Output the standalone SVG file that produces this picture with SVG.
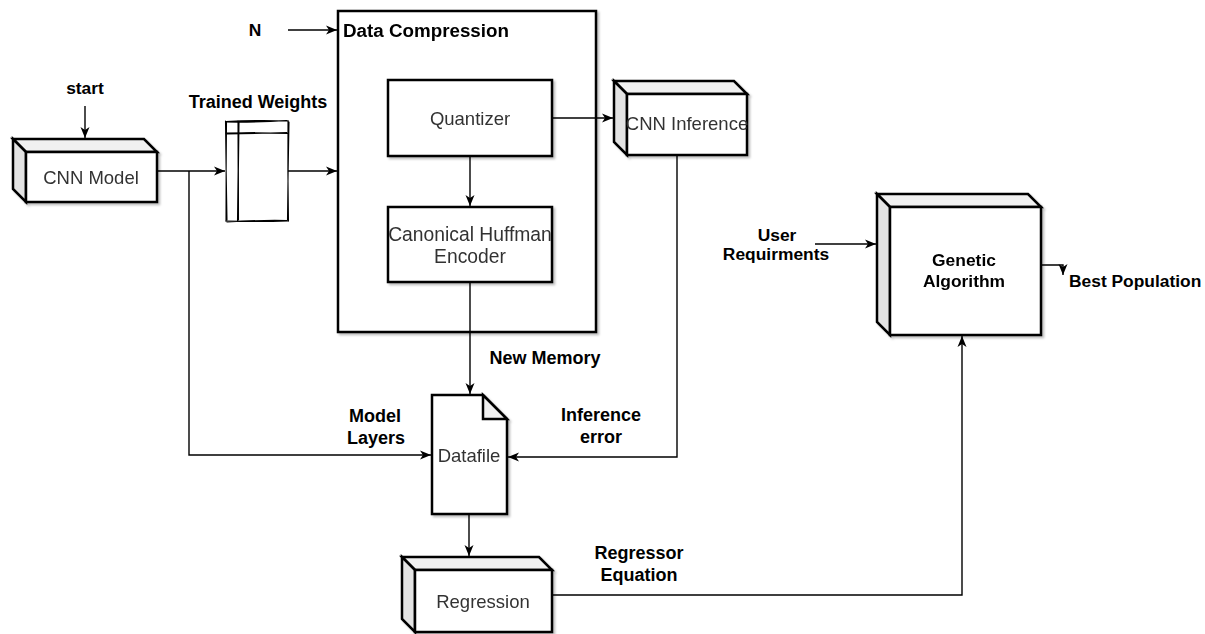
<svg xmlns="http://www.w3.org/2000/svg" width="1205" height="634" viewBox="0 0 1205 634">
  <style>
    .node { fill: #ffffff; stroke: #000000; stroke-width: 2.5; stroke-linejoin: miter; }
    .side { fill: #e3e3e3; stroke: #000000; stroke-width: 2.5; }
    .top { fill: #f0f0f0; stroke: #000000; stroke-width: 2.5; }
    .sketch { fill: none; stroke: #000000; stroke-width: 1.1; stroke-linecap: round; }
    .edge { fill: none; stroke: #000000; stroke-width: 1.4; }
    .lbl { font-family: "Liberation Sans", Arial, sans-serif; font-size: 18px; font-weight: bold; fill: #000000; }
    .sm { font-size: 17.4px; }
    .txt { font-family: "Liberation Sans", Arial, sans-serif; font-size: 18.5px; fill: #333333; text-anchor: middle; }
    .mid { text-anchor: middle; }
  </style>
  <defs>
    <marker id="arrow" markerUnits="userSpaceOnUse" markerWidth="12" markerHeight="12" viewBox="0 0 12 12" refX="11" refY="6" orient="auto">
      <path d="M0,1.5 L11,6 L0,10.5 L3,6 Z" fill="#000000"/>
    </marker>
    <filter id="shadow" x="-10%" y="-10%" width="130%" height="130%">
      <feDropShadow dx="2" dy="2" stdDeviation="1.2" flood-color="#000000" flood-opacity="0.25"/>
    </filter>
  </defs>

  <!-- CNN Model (cube) -->
  <g id="cnn-model" filter="url(#shadow)">
    <path class="top" d="M13,139 L144,139 L157,152 L26,152 Z"/>
    <path class="side" d="M13,139 L26,152 L26,202 L13,189 Z"/>
    <rect class="node" x="26" y="152" width="131" height="50"/>
    <text class="txt" x="91" y="184">CNN Model</text>
  </g>

  <!-- Trained Weights (internal storage, hand-drawn) -->
  <g id="trained-weights">
    <path d="M226,121 L288,121 L288,221 L226,221 Z" fill="#ffffff" stroke="none"/>
    <path class="sketch" d="M226,121.5 Q257,120 288.5,121 M225.5,122 Q256,122.5 287,120.5"/>
    <path class="sketch" d="M288,121 Q287.5,171 288.5,221 M289,122 Q288,172 287.5,220"/>
    <path class="sketch" d="M288,221 Q257,222 226,221 M287,220.5 Q256,220 227,222"/>
    <path class="sketch" d="M226,221 Q226.5,171 225.5,121 M227,220 Q225.5,170 226.5,122"/>
    <path class="sketch" d="M238,121 Q238.5,171 237.5,221 M239,122 Q238,170 238.5,220"/>
    <path class="sketch" d="M226,133 Q257,132.5 288,133.5 M227,134 Q256,133.5 287,132.5"/>
  </g>

  <!-- Data Compression (container) -->
  <g id="data-compression" filter="url(#shadow)">
    <rect class="node" x="338" y="11" width="258" height="321"/>
    <text class="lbl" x="343" y="37" style="font-size:18.8px">Data Compression</text>
  </g>

  <!-- Quantizer -->
  <g id="quantizer" filter="url(#shadow)">
    <rect class="node" x="388" y="80" width="164" height="76"/>
    <text class="txt" x="470" y="125">Quantizer</text>
  </g>

  <!-- Canonical Huffman Encoder -->
  <g id="huffman-encoder" filter="url(#shadow)">
    <rect class="node" x="388" y="207" width="164" height="75"/>
    <text class="txt" x="470" y="241" style="font-size:19.3px">Canonical Huffman</text>
    <text class="txt" x="470" y="263" style="font-size:19.3px">Encoder</text>
  </g>

  <!-- CNN Inference (cube) -->
  <g id="cnn-inference" filter="url(#shadow)">
    <path class="top" d="M614,81 L734,81 L747,94 L627,94 Z"/>
    <path class="side" d="M614,81 L627,94 L627,155 L614,142 Z"/>
    <rect class="node" x="627" y="94" width="120" height="61"/>
    <text class="txt" x="687" y="130">CNN Inference</text>
  </g>

  <!-- Datafile (document) -->
  <g id="datafile" filter="url(#shadow)">
    <path class="node" d="M432,395 L483,395 L507,419 L507,514 L432,514 Z"/>
    <path class="top" d="M483,395 L483,419 L507,419 Z"/>
    <text class="txt" x="469" y="462">Datafile</text>
  </g>

  <!-- Regression (cube) -->
  <g id="regression" filter="url(#shadow)">
    <path class="top" d="M402,557 L539,557 L552,570 L415,570 Z"/>
    <path class="side" d="M402,557 L415,570 L415,632 L402,619 Z"/>
    <rect class="node" x="415" y="570" width="137" height="62"/>
    <text class="txt" x="483" y="608">Regression</text>
  </g>

  <!-- Genetic Algorithm (cube) -->
  <g id="genetic-algorithm" filter="url(#shadow)">
    <path class="top" d="M877,194 L1028,194 L1041,207 L890,207 Z"/>
    <path class="side" d="M877,194 L890,207 L890,335 L877,322 Z"/>
    <rect class="node" x="890" y="207" width="151" height="128"/>
    <text class="lbl sm mid" x="964" y="266">Genetic</text>
    <text class="lbl sm mid" x="964" y="287">Algorithm</text>
  </g>

  <!-- connectors -->
  <g id="connectors">
    <path class="edge" d="M85,106 L85,138" marker-end="url(#arrow)"/>
    <path class="edge" d="M157,171 L225,171" marker-end="url(#arrow)"/>
    <path class="edge" d="M288,171 L337,171" marker-end="url(#arrow)"/>
    <path class="edge" d="M288,30 L337,30" marker-end="url(#arrow)"/>
    <path class="edge" d="M470,156 L470,206" marker-end="url(#arrow)"/>
    <path class="edge" d="M552,118 L613,118" marker-end="url(#arrow)"/>
    <path class="edge" d="M470,282 L470,394" marker-end="url(#arrow)"/>
    <path class="edge" d="M189,171 L189,455 L431,455" marker-end="url(#arrow)"/>
    <path class="edge" d="M677,155 L677,457 L508,457" marker-end="url(#arrow)"/>
    <path class="edge" d="M469,514 L469,556" marker-end="url(#arrow)"/>
    <path class="edge" d="M552,595 L962,595 L962,336" marker-end="url(#arrow)"/>
    <path class="edge" d="M815,244 L876,244" marker-end="url(#arrow)"/>
    <path class="edge" d="M1041,265 L1063,265 L1063,275" marker-end="url(#arrow)"/>
  </g>

  <!-- edge labels -->
  <g id="labels">
    <text class="lbl sm mid" x="85" y="94">start</text>
    <text class="lbl mid" x="258" y="108">Trained Weights</text>
    <text class="lbl sm mid" x="255" y="36">N</text>
    <text class="lbl mid" x="545" y="364">New Memory</text>
    <text class="lbl mid" x="375" y="422">Model</text>
    <text class="lbl mid" x="376" y="444">Layers</text>
    <text class="lbl mid" x="601" y="421">Inference</text>
    <text class="lbl mid" x="601" y="443">error</text>
    <text class="lbl mid" x="639" y="559">Regressor</text>
    <text class="lbl mid" x="639" y="581">Equation</text>
    <text class="lbl sm mid" x="777" y="241">User</text>
    <text class="lbl sm mid" x="776" y="260">Requirments</text>
    <text class="lbl sm" x="1069" y="287">Best Population</text>
  </g>
</svg>
